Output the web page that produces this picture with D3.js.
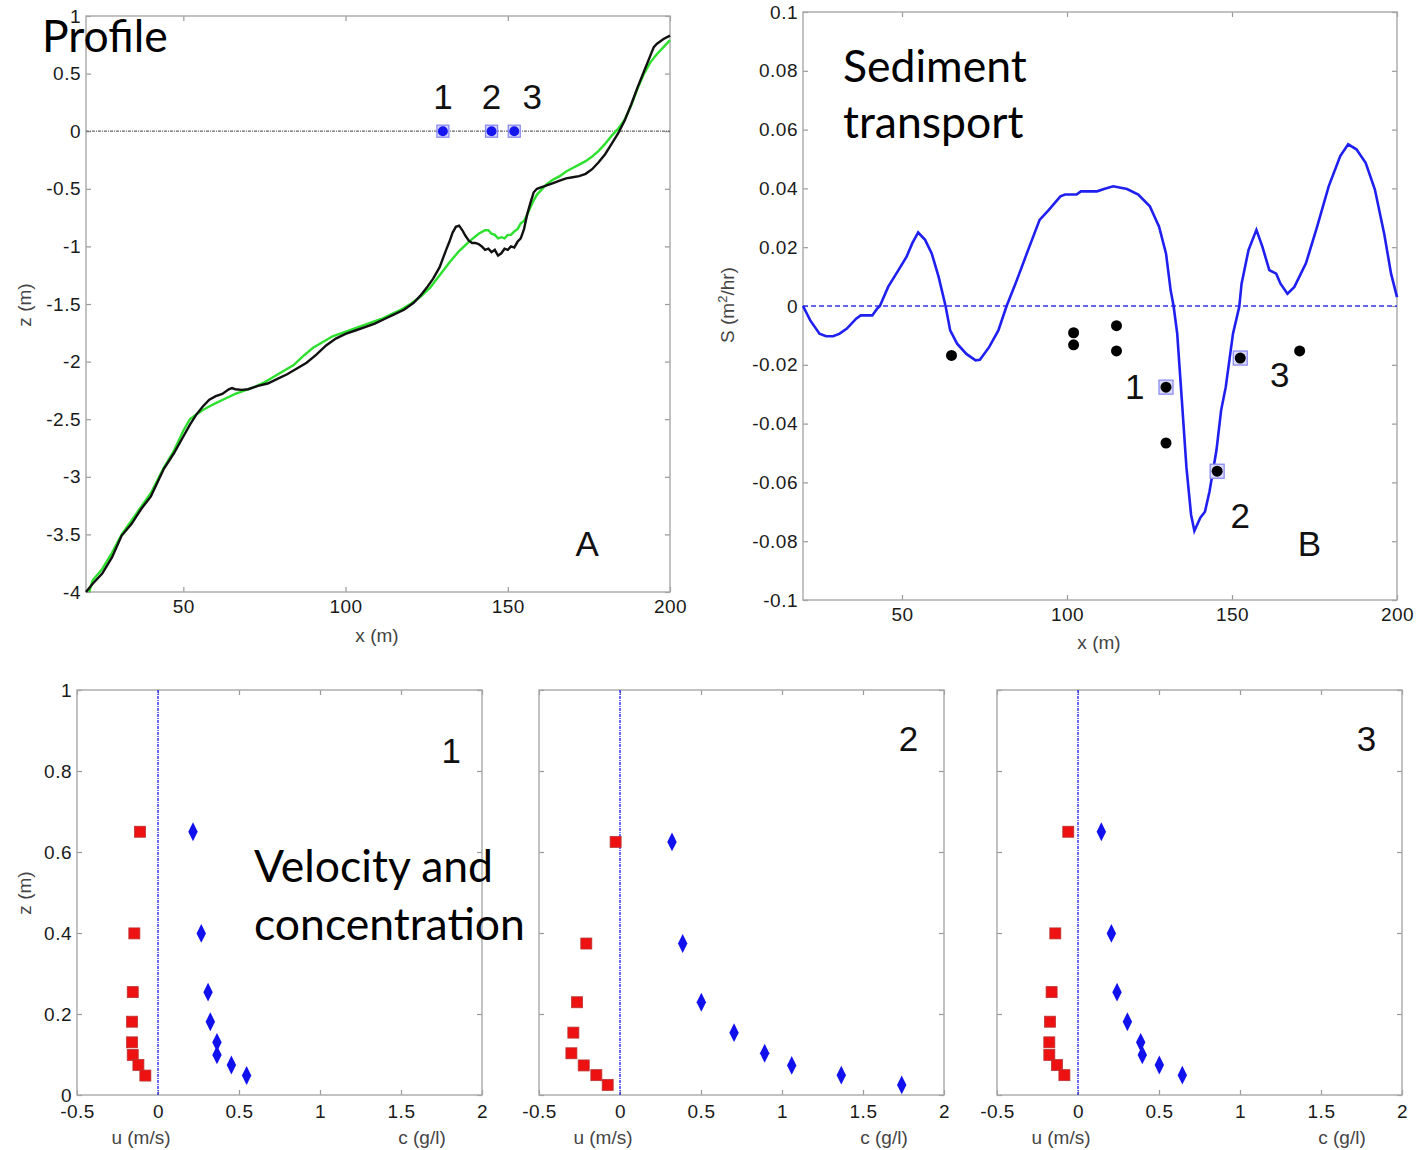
<!DOCTYPE html>
<html>
<head>
<meta charset="utf-8">
<script src="https://cdn.jsdelivr.net/npm/d3@7"></script>
<style>
  body { margin: 0; background: #fff; }
  .tick text { font-family: "Liberation Sans", Arial, sans-serif; font-size: 19px; fill: #1a1a1a; letter-spacing: 0.5px; }
  .tick line { stroke: #999; stroke-width: 1.2; }
  .alabel { font-family: "Liberation Sans", Arial, sans-serif; font-size: 19px; fill: #444; }
  .big { font-family: Lato, "Open Sans", sans-serif; font-size: 44.5px; fill: #000; }
  .num { font-family: "Liberation Sans", Arial, sans-serif; font-size: 35px; fill: #111; }
</style>
</head>
<body>
<svg id="fig" width="1419" height="1150"></svg>
<script>
// ---- data ----
// Panel A: beach profile, measured (black) and modelled (green)
var profX = [20,22,25,28,31,34,37,40,44,47,50,52,54,56,58,60,62,64,65,66,68,70,73,76,79,82,85,88,91,94,97,100,103,106,109,112,115,118,121,123,125,127,129,131,132,133,134,135,136,137,138,139,140,141,142,143,144,145,146,147,148,149,150,151,152,153,154,155,156,157,158,159,160,162,164,166,168,170,172,174,176,178,180,182,184,186,188,190,192,194,195,196,198,200];
var profZ = [-4.00,-3.93,-3.84,-3.70,-3.51,-3.41,-3.28,-3.17,-2.93,-2.80,-2.65,-2.55,-2.46,-2.39,-2.33,-2.30,-2.28,-2.24,-2.23,-2.24,-2.245,-2.24,-2.21,-2.19,-2.15,-2.11,-2.06,-2.01,-1.94,-1.86,-1.80,-1.76,-1.73,-1.70,-1.67,-1.63,-1.59,-1.55,-1.49,-1.43,-1.36,-1.28,-1.18,-1.03,-0.96,-0.88,-0.83,-0.82,-0.86,-0.91,-0.95,-0.97,-0.97,-0.98,-1.00,-1.03,-1.02,-1.05,-1.03,-1.08,-1.06,-1.02,-1.03,-1.00,-1.01,-0.96,-0.93,-0.85,-0.72,-0.62,-0.53,-0.50,-0.49,-0.47,-0.45,-0.43,-0.41,-0.40,-0.39,-0.37,-0.33,-0.27,-0.20,-0.11,-0.02,0.09,0.23,0.38,0.52,0.66,0.73,0.76,0.80,0.83];
var modelX = [21,22,25,28,31,34,37,40,44,47,50,52,54,56,58,60,63,66,69,72,75,78,81,84,87,90,93,96,99,102,105,108,111,114,117,120,123,126,129,132,135,138,141,143,144,145,146,147,148,149,150,151,152,153,154,155,156,157,158,159,160,162,164,166,168,170,172,174,176,178,180,182,184,186,188,190,192,194,196,198,200];
var modelZ = [-4.00,-3.90,-3.80,-3.66,-3.50,-3.38,-3.26,-3.14,-2.92,-2.78,-2.60,-2.50,-2.46,-2.42,-2.39,-2.36,-2.32,-2.28,-2.25,-2.22,-2.18,-2.13,-2.08,-2.03,-1.95,-1.88,-1.83,-1.78,-1.75,-1.72,-1.69,-1.66,-1.63,-1.59,-1.55,-1.50,-1.44,-1.36,-1.25,-1.14,-1.04,-0.96,-0.89,-0.86,-0.86,-0.89,-0.90,-0.93,-0.92,-0.93,-0.90,-0.90,-0.87,-0.85,-0.80,-0.78,-0.72,-0.66,-0.60,-0.55,-0.52,-0.46,-0.42,-0.39,-0.35,-0.32,-0.29,-0.26,-0.22,-0.17,-0.11,-0.04,0.02,0.10,0.22,0.37,0.50,0.60,0.67,0.73,0.79];
var stationX = [130, 145, 152];
var stationNames = ["1", "2", "3"];
var stationLabelX = [130, 145, 157.5];

// Panel B: sediment transport, model (blue line) and measured (dots)
var sedX = [20,22.2,25,27,29.1,31,33.3,36.1,37.5,41,42.4,43.3,45.8,48.6,51.4,53.1,54.9,57,59,61.1,63.2,64.6,66.7,69.5,72.3,73.6,76.4,79.2,81.7,84.8,88.2,91.7,94.5,98,99.4,102.9,104.2,109.1,111.2,114,118.2,121.6,125.1,127.9,130,131.4,132.3,133.4,134.8,136.2,137.6,138.6,140.4,141.8,143.2,145.3,146.7,148.1,150.3,152.2,152.9,155,157.4,159.2,161.3,163.4,164.7,166.8,168.9,172.4,175.8,179.3,182.8,185.2,187.7,190.5,193.3,196.1,198.2,200];
var sedS = [0,-0.0049,-0.0094,-0.0103,-0.0103,-0.0095,-0.0077,-0.0043,-0.0032,-0.0032,-0.001,0,0.0065,0.0116,0.0168,0.0213,0.025,0.0225,0.0179,0.0099,0,-0.0083,-0.0128,-0.0163,-0.0185,-0.0183,-0.014,-0.0083,0,0.0088,0.019,0.0293,0.0327,0.0373,0.0379,0.0379,0.039,0.039,0.0398,0.0407,0.0398,0.0379,0.0339,0.027,0.0179,0.0054,0,-0.0094,-0.032,-0.055,-0.071,-0.0765,-0.072,-0.070,-0.063,-0.049,-0.0355,-0.0276,-0.0094,-0.0003,0.0076,0.019,0.0259,0.0202,0.0122,0.011,0.0076,0.0042,0.0065,0.0145,0.027,0.0407,0.051,0.055,0.0533,0.0487,0.0396,0.0247,0.011,0.003];
var obsX = [65, 102, 102, 115, 115, 130, 130, 145.5, 152.5, 170.5];
var obsS = [-0.0168, -0.0091, -0.0132, -0.0067, -0.0153, -0.0276, -0.0466, -0.0562, -0.0177, -0.0153];
var obsStationX = [130, 145.5, 152.5];
var obsStationS = [-0.0276, -0.0562, -0.0177];

// Bottom panels: velocity u (red squares) and concentration c (blue diamonds)
var zLev1 = [0.650, 0.399, 0.254, 0.181, 0.130, 0.099, 0.074, 0.048];
var u1 = [-0.111, -0.146, -0.156, -0.160, -0.160, -0.156, -0.121, -0.078];
var c1 = [0.216, 0.267, 0.309, 0.323, 0.364, 0.364, 0.453, 0.547];
var zLev2 = [0.625, 0.374, 0.229, 0.154, 0.103, 0.073, 0.049, 0.025];
var u2 = [-0.027, -0.208, -0.265, -0.288, -0.300, -0.224, -0.146, -0.076];
var c2 = [0.321, 0.387, 0.502, 0.704, 0.893, 1.060, 1.366, 1.739];
var zLev3 = [0.650, 0.399, 0.254, 0.181, 0.130, 0.099, 0.074, 0.049];
var u3 = [-0.060, -0.140, -0.163, -0.173, -0.177, -0.177, -0.130, -0.084];
var c3 = [0.144, 0.206, 0.241, 0.305, 0.387, 0.397, 0.502, 0.644];

var ticksAx = [50, 100, 150, 200], ticksAy = [1, 0.5, 0, -0.5, -1, -1.5, -2, -2.5, -3, -3.5, -4];
var ticksBy = [0.1, 0.08, 0.06, 0.04, 0.02, 0, -0.02, -0.04, -0.06, -0.08, -0.1];
var ticksUx = [-0.5, 0, 0.5, 1, 1.5, 2], ticksUy = [0, 0.2, 0.4, 0.6, 0.8, 1];

var svg = d3.select("#fig");
var fmt = function(d) { return String(d); };

// matlab-ish box with inward ticks on all sides
var makePanel = function(p) {
    var g = svg.append("g").attr("transform", "translate(" + p.left + "," + p.top + ")");
    var x = d3.scaleLinear().domain(p.xd).range([0, p.w]);
    var y = d3.scaleLinear().domain(p.yd).range([p.h, 0]);
    g.append("g").attr("transform", "translate(0," + p.h + ")")
        .call(d3.axisBottom(x).tickValues(p.xt).tickSize(-5).tickPadding(p.xpad || 7).tickFormat(fmt));
    g.append("g")
        .call(d3.axisTop(x).tickValues(p.xt).tickSize(-5).tickFormat(""));
    g.append("g")
        .call(d3.axisLeft(y).tickValues(p.yt).tickSize(-5).tickPadding(5).tickFormat(p.ylab ? fmt : ""));
    g.append("g").attr("transform", "translate(" + p.w + ",0)")
        .call(d3.axisRight(y).tickValues(p.yt).tickSize(-5).tickFormat(""));
    g.selectAll(".domain").remove();
    g.append("rect").attr("width", p.w).attr("height", p.h)
        .attr("fill", "none").attr("stroke", "#a8a8a8").attr("stroke-width", 1.4);
    return {g: g, x: x, y: y};
};

// ---- panel A ----
var A = makePanel({left: 86, top: 16, w: 584, h: 576, xd: [20, 200], yd: [-4, 1], xt: ticksAx, yt: ticksAy, ylab: true, xpad: 8});
A.g.append("line").attr("x1", 0).attr("x2", 584).attr("y1", A.y(0)).attr("y2", A.y(0))
    .attr("stroke", "#666").attr("stroke-width", 1.2).attr("stroke-dasharray", "3,1,1,1");
var lineA = d3.line().x(function(d) { return A.x(d[0]); }).y(function(d) { return A.y(d[1]); });
A.g.append("path").datum(d3.zip(modelX, modelZ)).attr("d", lineA)
    .attr("fill", "none").attr("stroke", "#2ee02e").attr("stroke-width", 2.4);
A.g.append("path").datum(d3.zip(profX, profZ)).attr("d", lineA)
    .attr("fill", "none").attr("stroke", "#111").attr("stroke-width", 2.4);
A.g.selectAll(".stsq").data(stationX).enter().append("rect")
    .attr("x", function(d) { return A.x(d) - 6; }).attr("y", A.y(0) - 6)
    .attr("width", 12).attr("height", 12)
    .attr("fill", "#d6d6fa").attr("stroke", "#8c8cf0").attr("stroke-width", 1.3);
A.g.selectAll(".stdot").data(stationX).enter().append("circle")
    .attr("cx", function(d) { return A.x(d); }).attr("cy", A.y(0)).attr("r", 5).attr("fill", "#1515ee");
A.g.selectAll(".stlab").data(stationLabelX).enter().append("text").attr("class", "num")
    .attr("x", function(d) { return A.x(d); }).attr("y", A.y(0.19)).attr("text-anchor", "middle")
    .text(function(d, i) { return stationNames[i]; });
A.g.append("text").attr("class", "num").attr("x", A.x(174.5)).attr("y", A.y(-3.69))
    .attr("text-anchor", "middle").text("A");
svg.append("text").attr("class", "alabel").attr("x", 377).attr("y", 642).attr("text-anchor", "middle").text("x (m)");
svg.append("text").attr("class", "alabel").attr("transform", "translate(31,305) rotate(-90)")
    .attr("text-anchor", "middle").text("z (m)");
svg.append("text").attr("class", "big").attr("x", 42).attr("y", 52).text("Profile");

// ---- panel B ----
var B = makePanel({left: 803, top: 12, w: 594, h: 588, xd: [20, 200], yd: [-0.1, 0.1], xt: ticksAx, yt: ticksBy, ylab: true, xpad: 8});
B.g.append("line").attr("x1", 0).attr("x2", 594).attr("y1", B.y(0)).attr("y2", B.y(0))
    .attr("stroke", "#3333ee").attr("stroke-width", 1.5).attr("stroke-dasharray", "5,3");
var lineB = d3.line().x(function(d) { return B.x(d[0]); }).y(function(d) { return B.y(d[1]); });
B.g.append("path").datum(d3.zip(sedX, sedS)).attr("d", lineB)
    .attr("fill", "none").attr("stroke", "#1f1ff0").attr("stroke-width", 2.6);
B.g.selectAll(".obsq").data(d3.zip(obsStationX, obsStationS)).enter().append("rect")
    .attr("x", function(d) { return B.x(d[0]) - 7; }).attr("y", function(d) { return B.y(d[1]) - 7; })
    .attr("width", 14).attr("height", 14)
    .attr("fill", "#dcdcfa").attr("stroke", "#8c8cf0").attr("stroke-width", 1.3);
B.g.selectAll(".obs").data(d3.zip(obsX, obsS)).enter().append("circle")
    .attr("cx", function(d) { return B.x(d[0]); }).attr("cy", function(d) { return B.y(d[1]); })
    .attr("r", 5.5).attr("fill", "#000");
var labB = [["1", 120.5, -0.0316], ["2", 152.5, -0.0755], ["3", 164.5, -0.0275], ["B", 173.5, -0.085]];
B.g.selectAll(".lb").data(labB).enter().append("text").attr("class", "num")
    .attr("x", function(d) { return B.x(d[1]); }).attr("y", function(d) { return B.y(d[2]); })
    .attr("text-anchor", "middle").text(function(d) { return d[0]; });
svg.append("text").attr("class", "alabel").attr("x", 1099).attr("y", 649).attr("text-anchor", "middle").text("x (m)");
var sl = svg.append("text").attr("class", "alabel").attr("transform", "translate(734,305) rotate(-90)")
    .attr("text-anchor", "middle");
sl.append("tspan").text("S (m");
sl.append("tspan").attr("dy", -7).attr("font-size", 13).text("2");
sl.append("tspan").attr("dy", 7).text("/hr)");
svg.append("text").attr("class", "big").attr("x", 843).attr("y", 82).text("Sediment");
svg.append("text").attr("class", "big").attr("x", 843).attr("y", 138).text("transport");

// ---- bottom panels ----
var profiles = [
    {left: 77, z: zLev1, u: u1, c: c1, name: "1", lx: 1.81, ly: 0.82, ylab: true},
    {left: 539, z: zLev2, u: u2, c: c2, name: "2", lx: 1.78, ly: 0.849, ylab: false},
    {left: 997, z: zLev3, u: u3, c: c3, name: "3", lx: 1.78, ly: 0.849, ylab: false}
];
var diamond = d3.symbol().type(d3.symbolDiamond).size(85);
profiles.forEach(function(pr) {
    var P = makePanel({left: pr.left, top: 690, w: 405, h: 405, xd: [-0.5, 2], yd: [0, 1], xt: ticksUx, yt: ticksUy, ylab: pr.ylab, xpad: 10});
    P.g.append("line").attr("x1", P.x(0)).attr("x2", P.x(0)).attr("y1", 0).attr("y2", 405)
        .attr("stroke", "#2a2aee").attr("stroke-width", 1.4).attr("stroke-dasharray", "3,1,1,1");
    P.g.selectAll(".u").data(d3.zip(pr.u, pr.z)).enter().append("rect")
        .attr("x", function(d) { return P.x(d[0]) - 5.5; }).attr("y", function(d) { return P.y(d[1]) - 5.5; })
        .attr("width", 11).attr("height", 11).attr("fill", "#ee1111").attr("stroke", "#b33").attr("stroke-width", 0.8);
    P.g.selectAll(".c").data(d3.zip(pr.c, pr.z)).enter().append("path")
        .attr("d", diamond)
        .attr("transform", function(d) { return "translate(" + P.x(d[0]) + "," + P.y(d[1]) + ") scale(0.95,1.1)"; })
        .attr("fill", "#1111ee");
    P.g.append("text").attr("class", "num").attr("x", P.x(pr.lx)).attr("y", P.y(pr.ly))
        .attr("text-anchor", "middle").text(pr.name);
    svg.append("text").attr("class", "alabel").attr("x", pr.left + 64).attr("y", 1144)
        .attr("text-anchor", "middle").text("u (m/s)");
    svg.append("text").attr("class", "alabel").attr("x", pr.left + 345).attr("y", 1144)
        .attr("text-anchor", "middle").text("c (g/l)");
});
svg.append("text").attr("class", "alabel").attr("transform", "translate(31,893) rotate(-90)")
    .attr("text-anchor", "middle").text("z (m)");
svg.append("text").attr("class", "big").attr("x", 254).attr("y", 882).text("Velocity and");
svg.append("text").attr("class", "big").attr("x", 254).attr("y", 940).text("concentration");
</script>
</body>
</html>
